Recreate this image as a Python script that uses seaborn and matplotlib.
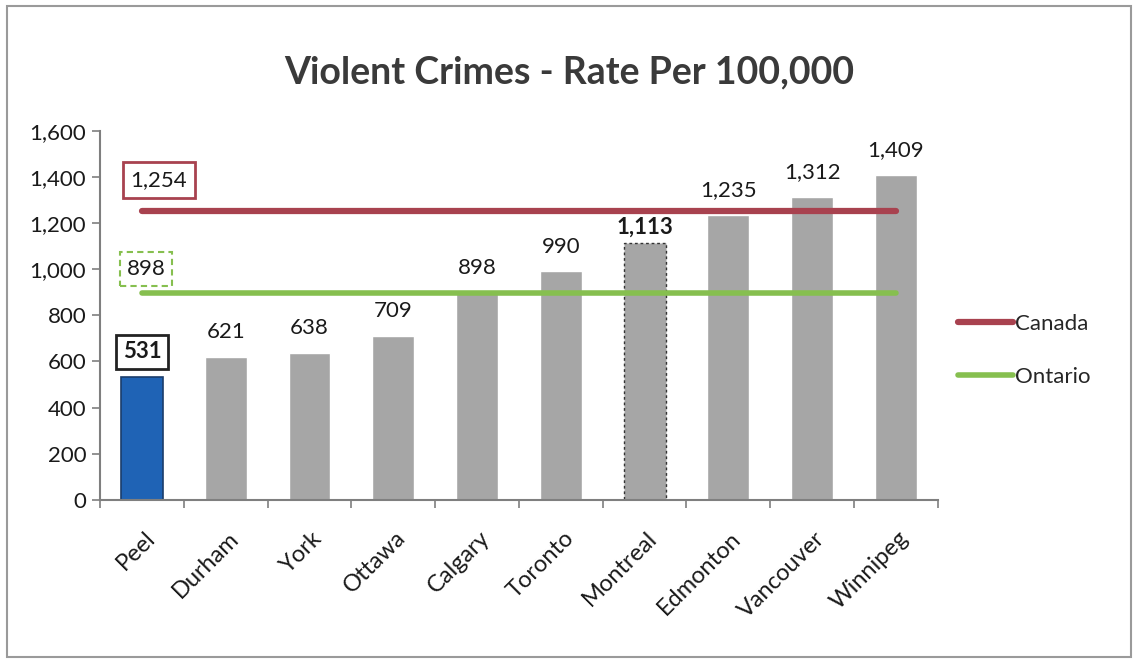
import matplotlib
matplotlib.use("Agg")
import matplotlib.pyplot as plt
import matplotlib.ticker as mticker
import matplotlib.transforms as mtransforms
from matplotlib.lines import Line2D
import seaborn as sns
import pandas as pd

cities = ["Peel", "Durham", "York", "Ottawa", "Calgary", "Toronto",
          "Montreal", "Edmonton", "Vancouver", "Winnipeg"]
rates = [531, 621, 638, 709, 898, 990, 1113, 1235, 1312, 1409]
canada_rate = 1254
ontario_rate = 898
y_ticks = [0, 200, 400, 600, 800, 1000, 1200, 1400, 1600]

BLUE = "#1f63b5"
GRAY = "#a6a6a6"
RED = "#a8424f"
GREEN = "#86bf4f"
TEXT = "#1a1a1a"

sns.set_theme(style="white")
plt.rcParams["font.family"] = ["Lato", "DejaVu Sans"]

df = pd.DataFrame({"city": cities, "rate": rates})
palette = {c: (BLUE if c == "Peel" else GRAY) for c in cities}

fig = plt.figure(figsize=(11.38, 6.61), dpi=100)
ax = fig.add_axes([0.088, 0.244, 0.736, 0.558])

sns.barplot(data=df, x="city", y="rate", hue="city", palette=palette,
            legend=False, width=0.5, saturation=1, ax=ax)

# dark outline on Peel, dashed selection outline on Montreal
peel_bar = ax.patches[cities.index("Peel")]
peel_bar.set_edgecolor("#1b3d6b")
peel_bar.set_linewidth(1.2)
mtl_bar = ax.patches[cities.index("Montreal")]
mtl_bar.set_edgecolor("#333333")
mtl_bar.set_linestyle((0, (2, 2)))
mtl_bar.set_linewidth(1.0)

# reference lines
xs = [0, len(cities) - 1]
ax.plot(xs, [canada_rate] * 2, color=RED, lw=4.5, solid_capstyle="round", zorder=3)
ax.plot(xs, [ontario_rate] * 2, color=GREEN, lw=4.0, solid_capstyle="round", zorder=3)

# value labels
for i, (c, v) in enumerate(zip(cities, rates)):
    if c == "Peel":
        ax.text(i, v + 65, f"{v:,}", ha="center", va="bottom", fontsize=16,
                fontweight="bold", color=TEXT, zorder=5,
                bbox=dict(boxstyle="square,pad=0.3", fc="white", ec="#222222", lw=2))
    elif c == "Montreal":
        ax.text(i, v + 25, f"{v:,}", ha="center", va="bottom", fontsize=16,
                fontweight="bold", color=TEXT, zorder=5)
    else:
        ax.text(i, v + 65, f"{v:,}", ha="center", va="bottom", fontsize=16,
                color=TEXT, zorder=5)

ax.text(0.2, canada_rate + 90, f"{canada_rate:,}", ha="center", va="bottom",
        fontsize=16, color=TEXT, zorder=5,
        bbox=dict(boxstyle="square,pad=0.35", fc="white", ec=RED, lw=2))
ax.text(0.05, ontario_rate + 60, f"{ontario_rate:,}", ha="center", va="bottom",
        fontsize=16, color=TEXT, zorder=5,
        bbox=dict(boxstyle="square,pad=0.3", fc="white", ec=GREEN, lw=1.5,
                  ls=(0, (3, 2))))

# axes styling
ax.set_xlim(-0.5, len(cities) - 0.5)
ax.set_ylim(0, 1600)
ax.set_yticks(y_ticks)
ax.yaxis.set_major_formatter(mticker.FuncFormatter(lambda v, p: f"{int(v):,}"))
ax.set_xlabel("")
ax.set_ylabel("")
for s in ["top", "right"]:
    ax.spines[s].set_visible(False)
for s in ["left", "bottom"]:
    ax.spines[s].set_color("#7f7f7f")
    ax.spines[s].set_linewidth(1.5)

ax.tick_params(axis="y", which="major", left=True, length=6, width=1.2,
               color="#7f7f7f", labelsize=16, labelcolor=TEXT, pad=4)
ax.tick_params(axis="x", which="major", bottom=False, labelsize=17,
               labelcolor=TEXT, pad=14)
ax.set_xticks([i + 0.5 for i in range(-1, len(cities))], minor=True)
ax.tick_params(axis="x", which="minor", bottom=True, length=6, width=1.2,
               color="#7f7f7f")
shift = mtransforms.ScaledTranslation(2 / 100, 0, fig.dpi_scale_trans)
for lbl in ax.get_xticklabels():
    lbl.set_rotation(45)
    lbl.set_ha("right")
    lbl.set_rotation_mode("anchor")
    lbl.set_transform(lbl.get_transform() + shift)

# legend
handles = [Line2D([], [], color=RED, lw=4.5), Line2D([], [], color=GREEN, lw=4.0)]
fig.legend(handles, ["Canada", "Ontario"], loc="center left",
           bbox_to_anchor=(0.824, 0.47), frameon=False, fontsize=16,
           handlelength=2.5, handletextpad=0.1, labelspacing=1.5)

fig.text(0.50, 0.89, "Violent Crimes - Rate Per 100,000", ha="center",
         va="center", fontsize=27, fontweight="bold", color="#3a3a3a")

# chart frame
fig.patches.append(plt.Rectangle((0.006, 0.006), 0.988, 0.985,
                                 transform=fig.transFigure, fill=False,
                                 ec="#9a9a9a", lw=1.5))

fig.savefig("out.png", dpi=100)
